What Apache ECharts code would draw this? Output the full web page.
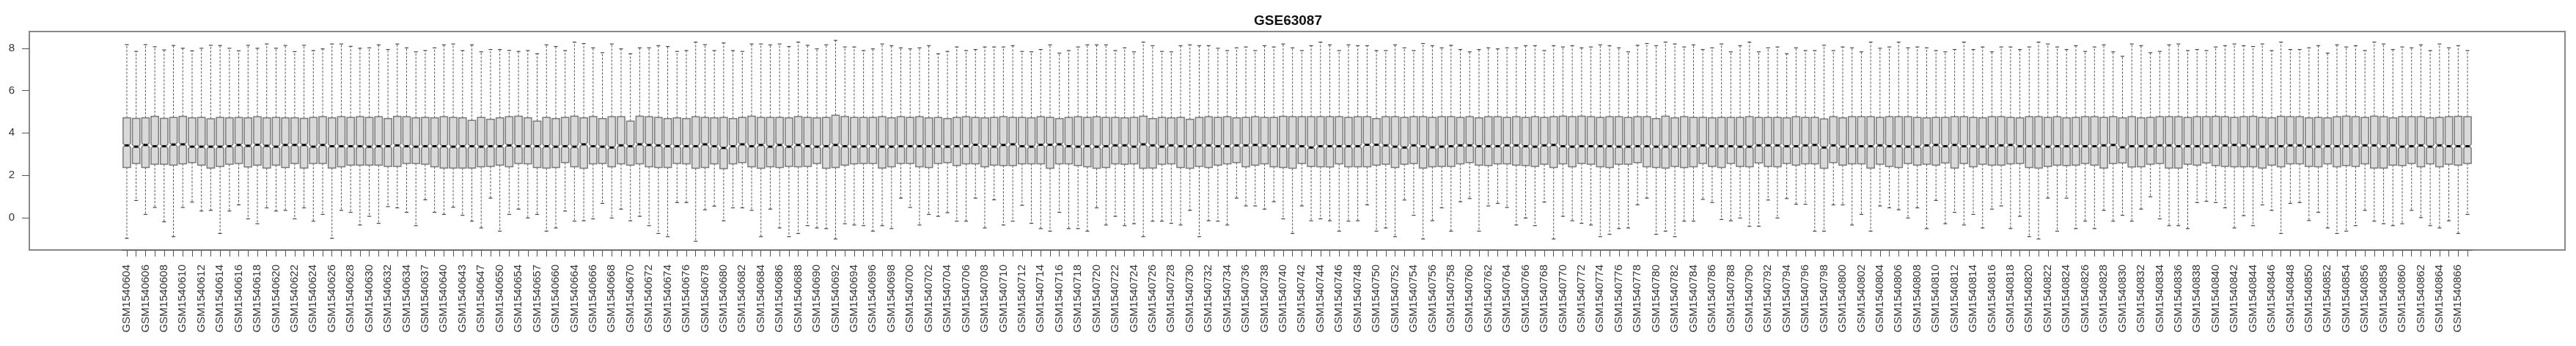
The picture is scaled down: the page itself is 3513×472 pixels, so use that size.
<!DOCTYPE html>
<html>
<head>
<meta charset="utf-8">
<title>GSE63087</title>
<script src="https://cdn.jsdelivr.net/npm/echarts@6.0.0/dist/echarts.min.js"></script>
<style>
  html, body { margin: 0; padding: 0; background: #fff; }
  #chart { width: 3513px; height: 472px; }
</style>
</head>
<body>
<div id="chart"></div>
<script>
// sample ids (GSM1540xxx), one box per sample
const sampleIds = [
  604,605,606,607,608,609,610,611,612,613,614,615,616,617,618,619,620,621,622,623,
  624,625,626,627,628,629,630,631,632,633,634,636,637,639,640,642,643,645,647,649,
  650,652,654,656,657,659,660,662,664,665,
  666,667,668,669,670,671,672,673,674,675,676,677,678,679,680,681,682,683,684,685,
  686,687,688,689,690,691,692,693,694,695,696,697,698,699,700,701,702,703,704,705,
  706,707,708,709,710,711,712,713,714,715,716,717,718,719,720,721,722,723,724,725,
  726,727,728,729,730,731,732,733,734,735,736,737,738,739,740,741,742,743,744,745,
  746,747,748,749,750,751,752,753,754,755,756,757,758,759,760,761,762,763,764,765,
  766,767,768,769,770,771,772,773,774,775,776,777,778,779,780,781,782,783,784,785,
  786,787,788,789,790,791,792,793,794,795,796,797,798,799,800,801,802,803,804,805,
  806,807,808,809,810,811,812,813,814,815,816,817,818,819,820,821,822,823,824,825,
  826,827,828,829,830,831,832,833,834,835,836,837,838,839,840,841,842,843,844,845,
  846,847,848,849,850,851,852,853,854,855,856,857,858,859,860,861,862,863,864,865,
  866,867
];

const upperWhisker = [
  8.17,7.85,8.17,8.07,7.92,8.13,8.0,7.88,8.0,8.14,8.13,8.0,7.88,8.14,8.0,8.2,8.0,8.13,7.84,8.14,7.89,7.97,8.2,8.2,8.09,8.0,8.02,8.16,7.94,8.2,8.02,7.83,7.89,8.02,8.16,8.2,7.89,8.16,7.83,7.94,7.94,7.9,
  7.85,7.89,7.74,8.16,8.08,7.89,8.29,8.22,8.02,7.79,8.2,7.97,7.74,8.02,8.02,8.12,8.08,7.85,7.89,8.29,8.17,7.89,8.25,7.89,7.85,8.2,8.2,8.16,8.2,8.08,8.29,8.14,7.97,8.16,8.37,8.06,8.06,7.89,7.97,8.2,8.12,8.02,
  7.97,8.02,8.12,7.74,7.85,8.06,7.89,7.94,8.06,8.06,8.06,8.12,7.85,7.83,7.94,8.16,7.77,7.89,8.06,8.16,8.16,8.16,7.89,8.02,7.83,8.29,8.12,7.85,7.83,8.12,8.16,8.12,8.12,8.0,7.89,8.02,8.06,7.89,8.12,8.06,8.2,8.02,
  7.89,8.12,8.29,8.16,7.89,8.16,8.12,8.12,7.89,7.89,8.16,8.02,7.89,8.22,8.12,8.02,8.14,7.94,7.83,7.94,8.02,7.97,8.02,8.02,8.12,8.12,7.89,8.12,8.06,8.12,8.02,8.06,8.16,8.12,8.02,7.83,8.14,8.22,8.12,8.29,8.2,8.06,
  8.16,7.94,8.02,8.2,7.83,8.12,8.29,7.83,8.02,8.06,7.74,8.02,7.89,7.89,8.14,7.89,8.06,8.02,7.83,8.29,8.0,8.06,8.29,8.02,8.06,8.02,7.89,7.83,7.94,8.29,7.94,8.06,7.83,8.06,8.06,7.94,8.06,8.29,8.2,8.06,7.94,8.12,
  7.85,8.06,8.16,7.83,7.62,8.2,8.12,7.79,7.85,8.16,8.2,7.89,7.94,7.89,8.06,8.12,8.2,8.12,8.08,8.2,7.89,8.29,7.94,7.94,8.02,8.12,7.77,8.16,8.06,8.12,7.89,8.29,8.2,7.94,8.06,8.02,8.16,7.89,8.2,8.02,8.12,7.89
];

const upperQuartile = [
  4.71,4.69,4.71,4.78,4.69,4.73,4.78,4.71,4.73,4.67,4.73,4.71,4.73,4.71,4.76,4.71,4.73,4.71,4.71,4.69,4.73,4.76,4.71,4.76,4.73,4.76,4.73,4.76,4.68,4.78,4.76,4.71,4.73,4.71,4.76,4.73,4.71,4.59,4.73,4.64,4.71,4.76,
  4.79,4.71,4.56,4.73,4.68,4.73,4.79,4.71,4.77,4.68,4.76,4.76,4.56,4.79,4.76,4.73,4.68,4.71,4.68,4.76,4.73,4.71,4.73,4.68,4.73,4.79,4.73,4.73,4.73,4.71,4.77,4.73,4.71,4.73,4.83,4.77,4.73,4.73,4.73,4.76,4.71,4.76,
  4.73,4.76,4.71,4.73,4.68,4.73,4.76,4.73,4.71,4.73,4.76,4.73,4.73,4.71,4.76,4.73,4.68,4.73,4.76,4.73,4.76,4.73,4.73,4.71,4.73,4.79,4.68,4.73,4.71,4.73,4.64,4.73,4.76,4.73,4.76,4.71,4.73,4.76,4.73,4.73,4.78,4.76,
  4.76,4.76,4.76,4.76,4.76,4.73,4.76,4.76,4.68,4.76,4.76,4.73,4.76,4.76,4.73,4.76,4.76,4.73,4.76,4.71,4.76,4.76,4.73,4.76,4.73,4.76,4.73,4.76,4.79,4.76,4.79,4.76,4.73,4.76,4.76,4.73,4.76,4.76,4.68,4.79,4.71,4.76,
  4.73,4.73,4.71,4.73,4.73,4.73,4.76,4.73,4.73,4.73,4.71,4.76,4.73,4.73,4.66,4.76,4.71,4.76,4.76,4.76,4.73,4.76,4.76,4.76,4.73,4.71,4.73,4.73,4.76,4.76,4.73,4.71,4.76,4.76,4.73,4.71,4.76,4.76,4.73,4.76,4.71,4.73,
  4.76,4.76,4.73,4.76,4.71,4.76,4.71,4.73,4.76,4.76,4.76,4.73,4.76,4.76,4.78,4.76,4.73,4.76,4.78,4.73,4.71,4.78,4.76,4.76,4.71,4.73,4.71,4.76,4.79,4.76,4.73,4.79,4.76,4.71,4.76,4.76,4.76,4.71,4.73,4.76,4.78,4.76
];

const medians = [
  3.41,3.35,3.43,3.37,3.37,3.45,3.46,3.35,3.35,3.35,3.35,3.37,3.43,3.39,3.44,3.39,3.35,3.43,3.43,3.43,3.35,3.43,3.37,3.37,3.37,3.37,3.35,3.37,3.37,3.41,3.37,3.35,3.37,3.37,3.37,3.35,3.37,3.37,3.35,3.37,3.37,3.41,
  3.37,3.37,3.37,3.37,3.35,3.37,3.35,3.46,3.37,3.35,3.31,3.41,3.37,3.46,3.43,3.41,3.37,3.37,3.37,3.37,3.46,3.37,3.29,3.37,3.46,3.37,3.43,3.35,3.43,3.35,3.43,3.37,3.35,3.37,3.43,3.37,3.35,3.37,3.37,3.35,3.35,3.37,
  3.37,3.37,3.37,3.37,3.35,3.37,3.37,3.44,3.37,3.35,3.43,3.46,3.37,3.35,3.44,3.44,3.46,3.37,3.35,3.37,3.35,3.37,3.41,3.41,3.35,3.46,3.41,3.35,3.41,3.37,3.37,3.41,3.41,3.37,3.37,3.41,3.41,3.43,3.41,3.37,3.37,3.37,
  3.37,3.31,3.37,3.37,3.37,3.37,3.37,3.44,3.44,3.41,3.35,3.31,3.41,3.37,3.32,3.35,3.37,3.41,3.41,3.37,3.37,3.37,3.41,3.41,3.37,3.35,3.41,3.43,3.37,3.35,3.37,3.37,3.37,3.37,3.35,3.35,3.37,3.37,3.35,3.35,3.35,3.37,
  3.37,3.41,3.37,3.37,3.37,3.35,3.35,3.41,3.41,3.41,3.37,3.37,3.41,3.43,3.31,3.41,3.35,3.37,3.37,3.37,3.41,3.37,3.37,3.35,3.35,3.41,3.43,3.37,3.43,3.37,3.37,3.35,3.37,3.41,3.43,3.37,3.37,3.37,3.35,3.37,3.37,3.37,
  3.37,3.37,3.41,3.43,3.32,3.37,3.37,3.37,3.41,3.41,3.37,3.37,3.37,3.37,3.37,3.41,3.43,3.41,3.35,3.35,3.37,3.37,3.41,3.41,3.35,3.35,3.37,3.37,3.37,3.37,3.41,3.41,3.37,3.41,3.35,3.37,3.41,3.35,3.41,3.37,3.37,3.37
];

const lowerQuartile = [
  2.37,2.56,2.37,2.52,2.52,2.48,2.54,2.60,2.48,2.34,2.42,2.52,2.56,2.39,2.48,2.34,2.48,2.37,2.56,2.34,2.56,2.56,2.34,2.40,2.48,2.48,2.48,2.48,2.42,2.42,2.56,2.56,2.52,2.40,2.34,2.34,2.34,2.34,2.40,2.42,2.48,2.40,
  2.56,2.54,2.37,2.34,2.37,2.60,2.40,2.33,2.54,2.56,2.40,2.54,2.48,2.54,2.40,2.37,2.37,2.56,2.54,2.33,2.37,2.54,2.31,2.54,2.60,2.40,2.33,2.40,2.37,2.42,2.40,2.42,2.56,2.33,2.37,2.48,2.54,2.56,2.56,2.34,2.40,2.56,
  2.56,2.40,2.37,2.56,2.60,2.46,2.54,2.54,2.40,2.48,2.46,2.46,2.54,2.54,2.54,2.33,2.54,2.54,2.46,2.40,2.33,2.37,2.54,2.52,2.54,2.33,2.34,2.52,2.54,2.37,2.33,2.42,2.37,2.48,2.54,2.60,2.40,2.48,2.54,2.40,2.37,2.33,
  2.56,2.42,2.40,2.39,2.54,2.40,2.40,2.40,2.48,2.52,2.37,2.52,2.56,2.34,2.40,2.42,2.42,2.54,2.60,2.48,2.46,2.54,2.54,2.48,2.46,2.42,2.52,2.37,2.54,2.40,2.56,2.52,2.40,2.37,2.52,2.52,2.60,2.40,2.37,2.34,2.42,2.37,
  2.40,2.56,2.42,2.37,2.56,2.42,2.40,2.58,2.42,2.40,2.56,2.48,2.54,2.54,2.33,2.60,2.48,2.54,2.54,2.34,2.52,2.42,2.37,2.56,2.48,2.52,2.48,2.58,2.34,2.56,2.40,2.52,2.48,2.48,2.54,2.56,2.37,2.34,2.42,2.48,2.46,2.48,
  2.56,2.48,2.34,2.56,2.58,2.39,2.40,2.52,2.56,2.34,2.34,2.52,2.48,2.58,2.46,2.42,2.40,2.40,2.40,2.34,2.48,2.40,2.54,2.54,2.42,2.40,2.54,2.40,2.46,2.42,2.54,2.34,2.34,2.48,2.46,2.56,2.40,2.54,2.40,2.52,2.48,2.56
];

const lowerWhisker = [
  -0.98,0.81,0.15,0.48,-0.2,-0.9,0.48,0.73,0.31,0.34,-0.75,0.31,0.6,-0.06,-0.29,0.46,0.31,0.34,-0.06,0.46,-0.17,0.15,-0.98,0.34,0.25,-0.35,0.06,-0.27,0.52,0.46,0.25,-0.38,0.84,0.25,0.15,0.49,0.11,-0.17,-0.49,0.92,-0.64,0.15,
  0.40,-0.02,0.15,-0.64,-0.49,0.31,-0.17,-0.15,-0.06,0.67,-0.02,0.40,-0.15,0.06,-0.38,-0.75,-0.9,0.71,0.71,-1.12,0.37,0.54,-0.15,0.46,0.46,0.34,-0.9,0.40,-0.49,-0.9,-0.75,-0.38,-0.49,-0.52,-1.01,-0.29,-0.35,-0.38,-0.64,-0.38,-0.52,0.92,
  0.48,-0.35,0.15,0.06,0.23,-0.17,-0.17,0.92,-0.49,0.84,-0.35,-0.17,0.58,-0.27,-0.52,-0.64,0.25,-0.52,-0.52,-0.64,0.46,-0.35,0.06,-0.38,-0.29,-0.9,-0.17,-0.17,-0.27,-0.35,0.34,-0.9,-0.15,-0.17,-0.35,0.92,0.55,0.55,0.40,0.75,-0.06,-0.75,
  0.55,-0.15,-0.06,-0.15,-0.64,-0.17,-0.15,0.6,-0.64,-0.49,-0.9,0.83,0.11,-1.01,-0.15,0.46,-0.64,0.75,0.9,-0.64,0.55,0.67,0.48,-0.35,-0.02,-0.38,0.73,-1.01,0.06,-0.15,-0.27,-0.35,-0.9,-0.79,-0.52,-0.49,0.6,0.92,-0.79,-0.64,-0.9,-0.17,
  -0.17,0.86,0.71,-0.09,-0.15,-0.02,-0.41,-0.41,0.83,-0.02,0.9,0.63,0.63,-0.64,-0.64,0.6,0.6,-0.35,0.15,-0.64,0.55,0.46,0.37,-0.02,0.46,-0.52,0.81,-0.29,0.25,-0.35,0.15,-0.49,0.40,0.55,-0.52,0.06,-0.9,-1.01,0.92,-0.64,0.92,-0.52,
  -0.17,-0.52,0.34,-0.17,0.11,-0.17,0.40,0.98,-0.06,-0.38,-0.38,-0.52,0.71,0.77,0.71,0.46,-0.49,0.09,-0.38,0.6,0.34,-0.75,0.67,0.71,-0.14,0.25,-0.49,-0.75,-0.64,-0.38,0.34,-0.17,-0.29,-0.38,-0.29,0.34,0.0,-0.38,-0.49,-0.15,-0.75,0.15
];

const yTicks = [0, 2, 4, 6, 8];

const sampleNames = sampleIds.map(id => 'GSM1540' + id);
// notch like R: median +/- 1.58 * IQR / sqrt(n)
const probeCount = 1300;

const boxData = sampleNames.map((name, i) => [
  i, lowerWhisker[i], lowerQuartile[i], medians[i], upperQuartile[i], upperWhisker[i]
]);

function renderBox(params, api) {
  const i = api.value(0);
  const x = api.coord([i, 0])[0];
  const half = api.size([1, 0])[0] * 0.4;
  const y = v => api.coord([i, v])[1];
  const lo = api.value(1), q1 = api.value(2), med = api.value(3), q3 = api.value(4), hi = api.value(5);
  const notch = 1.58 * (q3 - q1) / Math.sqrt(probeCount);
  const whisker = { stroke: '#555', lineWidth: 1, lineDash: [3, 2] };
  const staple = { stroke: '#444', lineWidth: 1.2 };
  return {
    type: 'group',
    children: [
      { type: 'line', shape: { x1: x, y1: y(q3), x2: x, y2: y(hi) }, style: whisker },
      { type: 'line', shape: { x1: x, y1: y(q1), x2: x, y2: y(lo) }, style: whisker },
      { type: 'line', shape: { x1: x - half / 2, y1: y(hi), x2: x + half / 2, y2: y(hi) }, style: staple },
      { type: 'line', shape: { x1: x - half / 2, y1: y(lo), x2: x + half / 2, y2: y(lo) }, style: staple },
      {
        type: 'polygon',
        shape: {
          points: [
            [x - half, y(q1)], [x + half, y(q1)], [x + half, y(med - notch)],
            [x + half / 2, y(med)], [x + half, y(med + notch)], [x + half, y(q3)],
            [x - half, y(q3)], [x - half, y(med + notch)], [x - half / 2, y(med)],
            [x - half, y(med - notch)]
          ]
        },
        style: { fill: '#d9d9d9', stroke: '#7a7a7a', lineWidth: 1.5 }
      },
      { type: 'line', shape: { x1: x - half / 2, y1: y(med), x2: x + half / 2, y2: y(med) }, style: { stroke: '#000', lineWidth: 3 } }
    ]
  };
}

const font = 'Liberation Sans, Arial, sans-serif';
const chart = echarts.init(document.getElementById('chart'));
chart.setOption({
  animation: false,
  backgroundColor: '#fff',
  title: {
    text: 'GSE63087',
    left: 'center',
    top: 14,
    textStyle: { fontSize: 19, fontWeight: 'bold', fontFamily: font, color: '#111' }
  },
  grid: [
    { left: 40, right: 15, top: 43, bottom: 131, show: true, borderColor: '#888', borderWidth: 2 },
    { left: 166.6, right: 141.6, top: 43, bottom: 131 }
  ],
  xAxis: [
    { gridIndex: 0, type: 'value', min: 0, max: 1, show: false },
    {
      gridIndex: 1,
      type: 'category',
      data: sampleNames,
      boundaryGap: true,
      position: 'bottom',
      axisLine: { show: true, onZero: false, lineStyle: { color: '#555', width: 1 } },
      axisTick: { show: true, alignWithLabel: true, interval: 0, length: 9, lineStyle: { color: '#555' } },
      axisLabel: { interval: 1, rotate: 90, fontSize: 15, fontFamily: font, color: '#333', margin: 20 },
      splitLine: { show: false }
    }
  ],
  yAxis: [
    {
      gridIndex: 0,
      type: 'value',
      min: -1.53,
      max: 8.79,
      axisLine: { show: false },
      axisTick: { show: true, length: 10, customValues: yTicks, lineStyle: { color: '#555' } },
      axisLabel: { customValues: yTicks, fontSize: 15, fontFamily: font, color: '#333', margin: 20 },
      splitLine: { show: false }
    },
    { gridIndex: 1, type: 'value', min: -1.53, max: 8.79, show: false }
  ],
  series: [{
    type: 'custom',
    xAxisIndex: 1,
    yAxisIndex: 1,
    silent: true,
    renderItem: renderBox,
    encode: { x: 0, y: [1, 2, 3, 4, 5] },
    data: boxData
  }]
});
</script>
</body>
</html>
